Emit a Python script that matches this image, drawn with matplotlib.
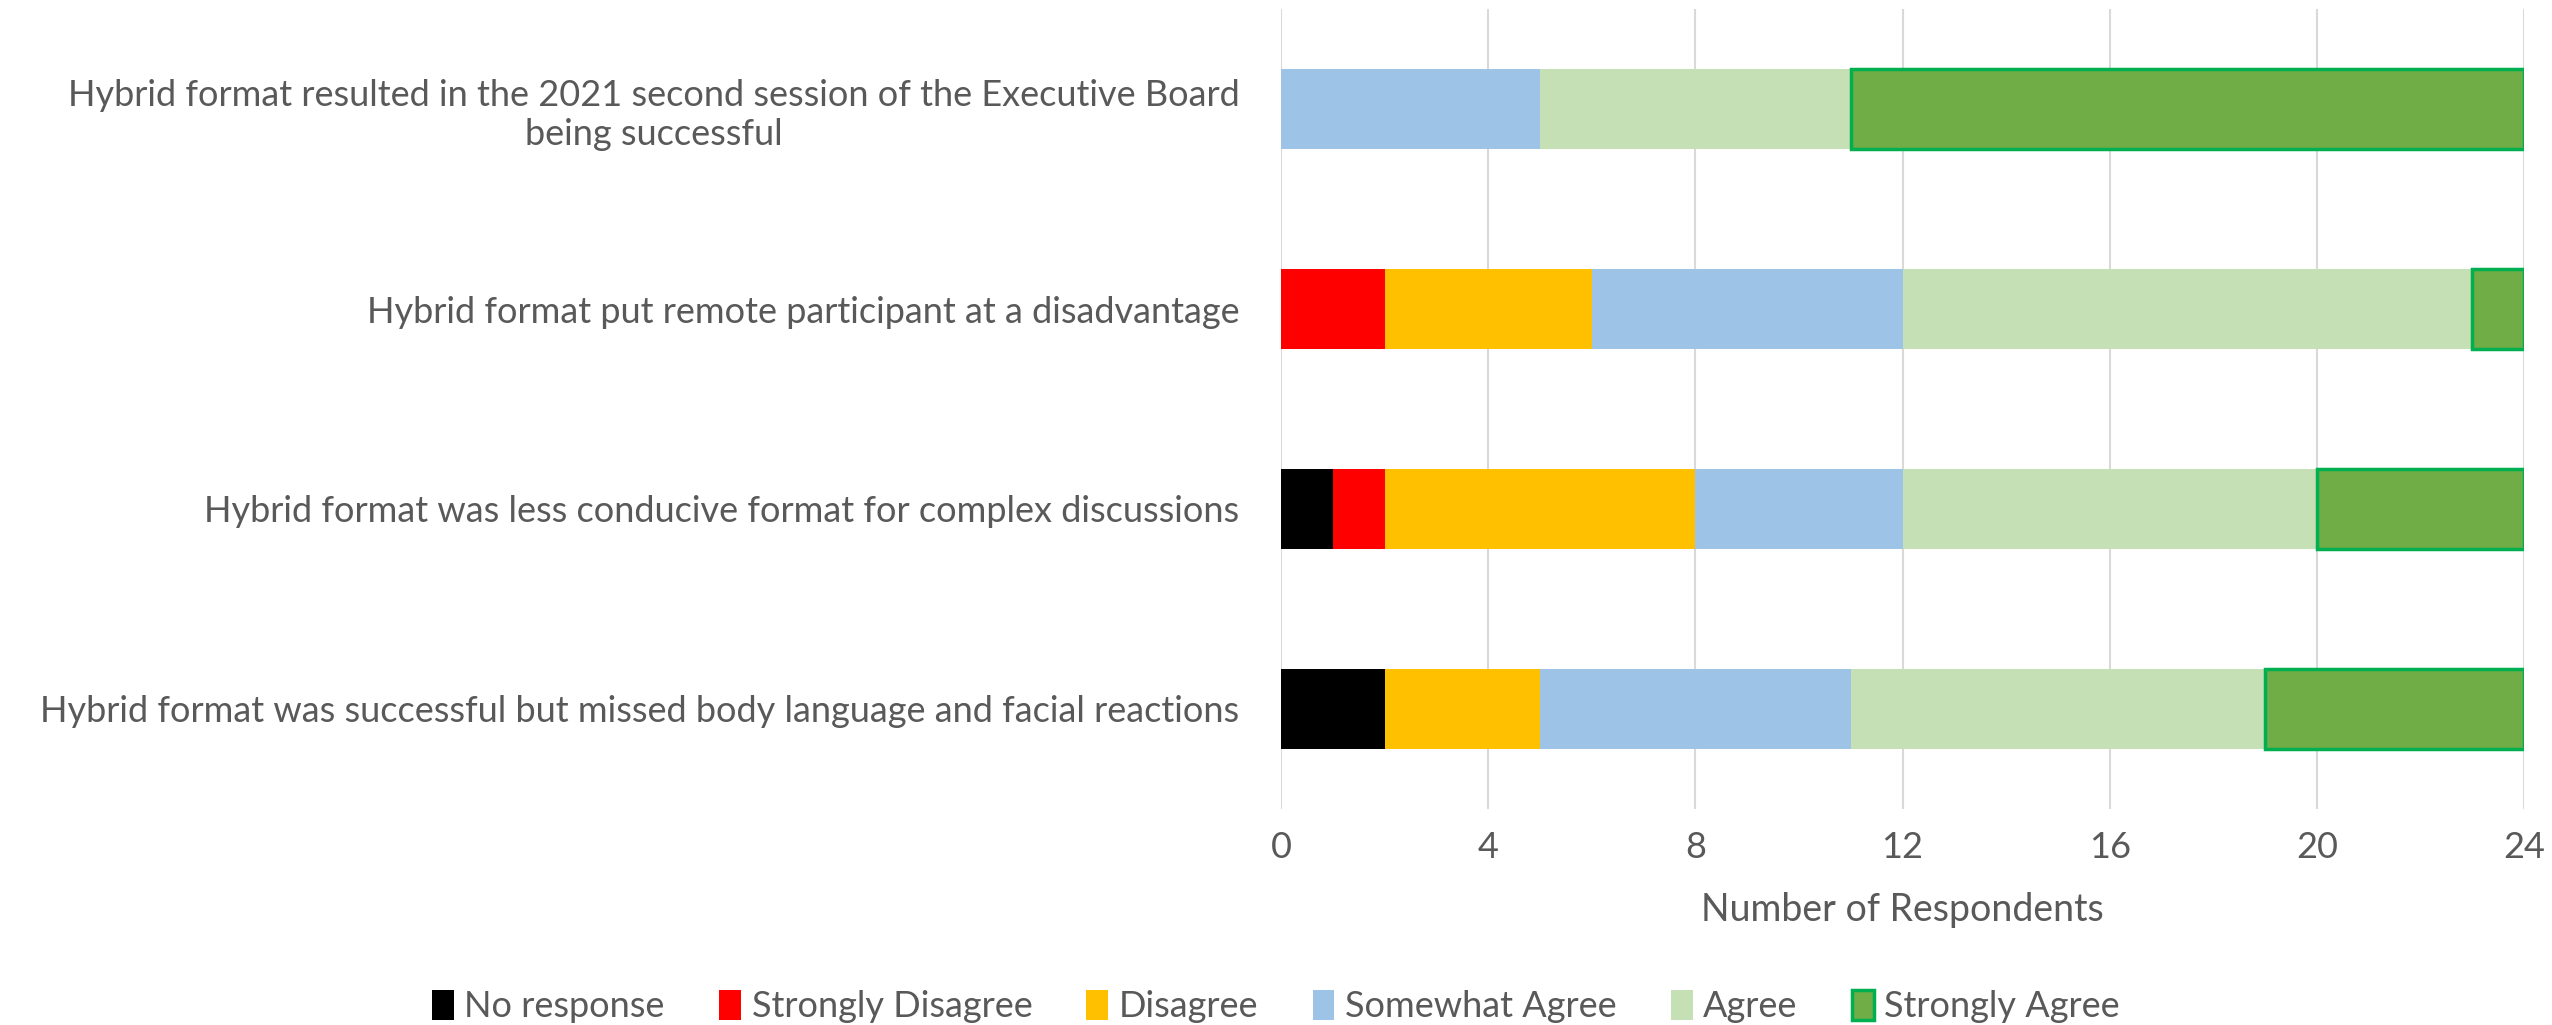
import numpy as np
import matplotlib.pyplot as plt

plt.rcParams['font.family'] = ['Lato', 'DejaVu Sans']

questions = [
    "Hybrid format resulted in the 2021 second session of the Executive Board\nbeing successful",
    "Hybrid format put remote participant at a disadvantage",
    "Hybrid format was less conducive format for complex discussions",
    "Hybrid format was successful but missed body language and facial reactions",
]
categories = ["No response", "Strongly Disagree", "Disagree", "Somewhat Agree", "Agree", "Strongly Agree"]
no_response = [0, 0, 1, 2]
strongly_disagree = [0, 2, 1, 0]
disagree = [0, 4, 6, 3]
somewhat_agree = [5, 6, 4, 6]
agree = [6, 11, 8, 8]
strongly_agree = [13, 1, 4, 5]

series = [no_response, strongly_disagree, disagree, somewhat_agree, agree, strongly_agree]
colors = ["#000000", "#ff0000", "#ffc000", "#9dc3e6", "#c5e0b4", "#70ad47"]
edges = [None, None, None, None, None, "#00b050"]

grey = "#595959"

fig = plt.figure(figsize=(25.52, 10.25), dpi=100)
ax = fig.add_axes([0.502, 0.211, 0.487, 0.78])

y = np.arange(len(questions))
left = np.zeros(len(questions))
for vals, name, c, ec in zip(series, categories, colors, edges):
    vals = np.array(vals, dtype=float)
    if ec:
        ax.barh(y, vals, left=left, height=0.4, color=c, edgecolor=ec, linewidth=2.5, label=name, zorder=3)
    else:
        ax.barh(y, vals, left=left, height=0.4, color=c, linewidth=0, label=name, zorder=3)
    left += vals

ax.set_ylim(3.5, -0.5)
ax.set_xlim(0, 24)
ax.set_xticks(range(0, 25, 4))
ax.set_yticks(y)
ax.set_yticklabels(questions, fontsize=26, color=grey)
for t in ax.get_yticklabels():
    t.set_multialignment('center')
ax.tick_params(axis='y', length=0, pad=30)
ax.tick_params(axis='x', length=0, pad=16, labelsize=26, labelcolor=grey)
ax.grid(axis='x', color="#d9d9d9", linewidth=1.5, zorder=0)
for s in ax.spines.values():
    s.set_visible(False)
ax.set_xlabel("Number of Respondents", fontsize=27, color=grey, labelpad=20)

leg = fig.legend(loc='lower center', ncol=6, bbox_to_anchor=(0.5, -0.03), frameon=False,
                 fontsize=26, handlelength=0.6, handleheight=0.9, handletextpad=0.3, columnspacing=1.5)
for t in leg.get_texts():
    t.set_color(grey)

fig.savefig("out.png", dpi=100)
